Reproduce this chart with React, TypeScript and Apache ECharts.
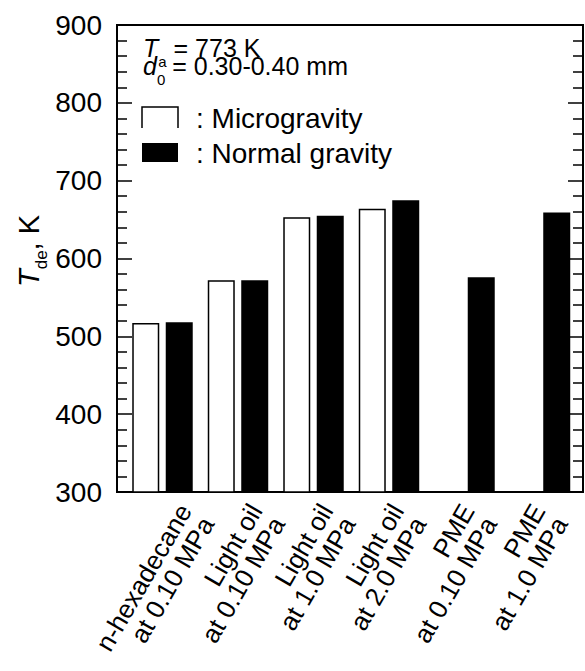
import React, { useEffect, useRef } from "react";
import * as echarts from "echarts";

const categories = [
  "n-hexadecane\nat 0.10 MPa",
  "Light oil\nat 0.10 MPa",
  "Light oil\nat 1.0 MPa",
  "Light oil\nat 2.0 MPa",
  "PME\nat 0.10 MPa",
  "PME\nat 1.0 MPa",
];
const microgravity: (number | null)[] = [517, 572, 653, 664, null, null];
const normalGravity: (number | null)[] = [518, 572, 655, 675, 576, 659];
const yMin = 300;
const yMax = 900;
const yStep = 100;

const FONT = "'Liberation Sans', Arial, sans-serif";

export default function App() {
  const ref = useRef<HTMLDivElement>(null);
  useEffect(() => {
    if (!ref.current) return;
    const chart = echarts.init(ref.current, undefined, { renderer: "svg" });
    const tickCommon = {
      type: "value" as const,
      min: yMin,
      max: yMax,
      interval: yStep,
      splitLine: { show: false },
      axisLine: { show: true, lineStyle: { color: "#000", width: 2 } },
      axisTick: { show: true, inside: true, length: 15, lineStyle: { color: "#000", width: 1.5 } },
      minorTick: { show: true, splitNumber: 5, length: 10, lineStyle: { color: "#000", width: 1.5 } },
    };
    const plotTop = 25;
    const plotHeight = 467;
    const barLeft = 124.75;
    const barWidthTotal = 453;
    chart.setOption({
      animation: false,
      backgroundColor: "#fff",
      textStyle: { fontFamily: FONT },
      grid: [
        { left: 117, top: plotTop, width: 466, height: plotHeight, show: true, borderColor: "#000", borderWidth: 2, backgroundColor: "transparent" },
        { left: barLeft, top: plotTop, width: barWidthTotal, height: plotHeight },
        { left: barLeft + 36, top: plotTop, width: barWidthTotal, height: plotHeight },
      ],
      xAxis: [
        { gridIndex: 0, type: "value", min: 0, max: 1, show: false },
        {
          gridIndex: 1,
          type: "category",
          data: categories,
          axisLine: { show: false },
          axisTick: { show: false },
          axisLabel: { show: false },
        },
        {
          gridIndex: 2,
          type: "category",
          data: categories,
          axisLine: { show: false },
          axisTick: { show: false },
          axisLabel: { interval: 0, rotate: 60, fontSize: 26, lineHeight: 26, color: "#000", margin: 27, fontFamily: FONT },
        },
      ],
      yAxis: [
        {
          ...tickCommon,
          gridIndex: 0,
          position: "left",
          axisLabel: { fontSize: 28, color: "#000", margin: 15, fontFamily: FONT },
        },
        { ...tickCommon, gridIndex: 0, position: "right", axisLabel: { show: false } },
        { gridIndex: 1, type: "value", min: yMin, max: yMax, show: false },
        { gridIndex: 2, type: "value", min: yMin, max: yMax, show: false },
      ],
      series: [
        {
          name: "Microgravity",
          type: "bar",
          xAxisIndex: 1,
          yAxisIndex: 2,
          data: microgravity,
          barWidth: 27,
          barGap: "24%",
          itemStyle: { color: "#fff", borderColor: "#000", borderWidth: 1.5 },
        },
        {
          name: "Normal gravity",
          type: "bar",
          xAxisIndex: 1,
          yAxisIndex: 2,
          data: normalGravity,
          barWidth: 27,
          barGap: "24%",
          itemStyle: { color: "#000" },
        },
      ],
      graphic: [
        {
          type: "text",
          x: 26,
          y: 251,
          rotation: Math.PI / 2,
          style: {
            text: "{i|T}{s|de}{n|, K}",
            align: "center",
            verticalAlign: "middle",
            fill: "#000",
            rich: {
              i: { fontSize: 29, fontStyle: "italic", fontFamily: FONT, lineHeight: 34, verticalAlign: "bottom" },
              s: { fontSize: 17, fontFamily: FONT, lineHeight: 34, verticalAlign: "bottom", padding: [0, 0, -7, 0] },
              n: { fontSize: 29, fontFamily: FONT, lineHeight: 34, verticalAlign: "bottom" },
            },
          },
        },
        {
          type: "text",
          x: 143,
          y: 60,
          style: {
            text: "{i|T}{s|a}{n| = 773 K}\n{i|d}{s|0}{n| = 0.30-0.40 mm}",
            verticalAlign: "middle",
            fill: "#000",
            rich: {
              i: { fontSize: 25, fontStyle: "italic", fontFamily: FONT, lineHeight: 18, verticalAlign: "bottom" },
              s: { fontSize: 15, fontFamily: FONT, lineHeight: 18, verticalAlign: "bottom", padding: [0, 0, -9, 0] },
              n: { fontSize: 25, fontFamily: FONT, lineHeight: 18, verticalAlign: "bottom" },
            },
          },
        },
        {
          type: "polyline",
          shape: { points: [[142, 128], [142, 107], [178, 107], [178, 128]] },
          style: { stroke: "#000", lineWidth: 1.5, fill: null },
        },
        {
          type: "rect",
          shape: { x: 142, y: 143, width: 36, height: 19 },
          style: { fill: "#000" },
        },
        {
          type: "text",
          x: 196,
          y: 118,
          style: { text: ": Microgravity", fontSize: 28, fontFamily: FONT, fill: "#000", verticalAlign: "middle" },
        },
        {
          type: "text",
          x: 196,
          y: 153,
          style: { text: ": Normal gravity", fontSize: 28, fontFamily: FONT, fill: "#000", verticalAlign: "middle" },
        },
      ],
    });
    return () => chart.dispose();
  }, []);
  return <div ref={ref} style={{ position: "fixed", left: 0, top: 0, width: 585, height: 671 }} />;
}
